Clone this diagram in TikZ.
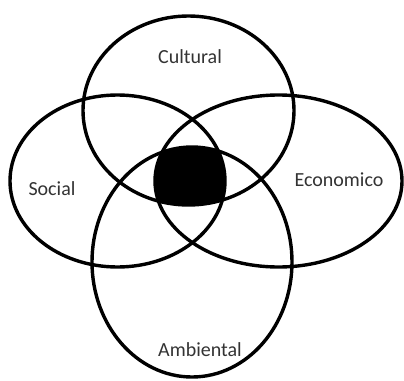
\documentclass[tikz,border=0pt]{standalone}
\usepackage{fontspec}
\setmainfont{Carlito}
\begin{document}
\begin{tikzpicture}[x=1pt,y=-1pt,
  ring/.style={draw=black, line width=3.4pt},
  lbl/.style={text=black!80, font=\fontsize{20}{23}\selectfont, inner sep=0pt}]
\useasboundingbox[fill=white] (0,0) rectangle (404,380);
% central filled intersection
\begin{scope}
  \clip (188.5,110.5) ellipse [x radius=105.5, y radius=94.5];
  \clip (117.5,181) ellipse [x radius=107.5, y radius=86];
  \clip (278.5,181) ellipse [x radius=123.5, y radius=86];
  \fill[black] (192,262) ellipse [x radius=100, y radius=115];
\end{scope}
% ellipses
\draw[ring] (188.5,110.5) ellipse [x radius=105.5, y radius=94.5];
\draw[ring] (117.5,181) ellipse [x radius=107.5, y radius=86];
\draw[ring] (278.5,181) ellipse [x radius=123.5, y radius=86];
\draw[ring] (192,262) ellipse [x radius=100, y radius=115];
% labels
\node[lbl] (cultural) at (190,57) {Cultural};
\node[lbl] (social) at (52,189) {Social};
\node[lbl] (economico) at (339,180) {Economico};
\node[lbl] (ambiental) at (200,350) {Ambiental};
\end{tikzpicture}
\end{document}
